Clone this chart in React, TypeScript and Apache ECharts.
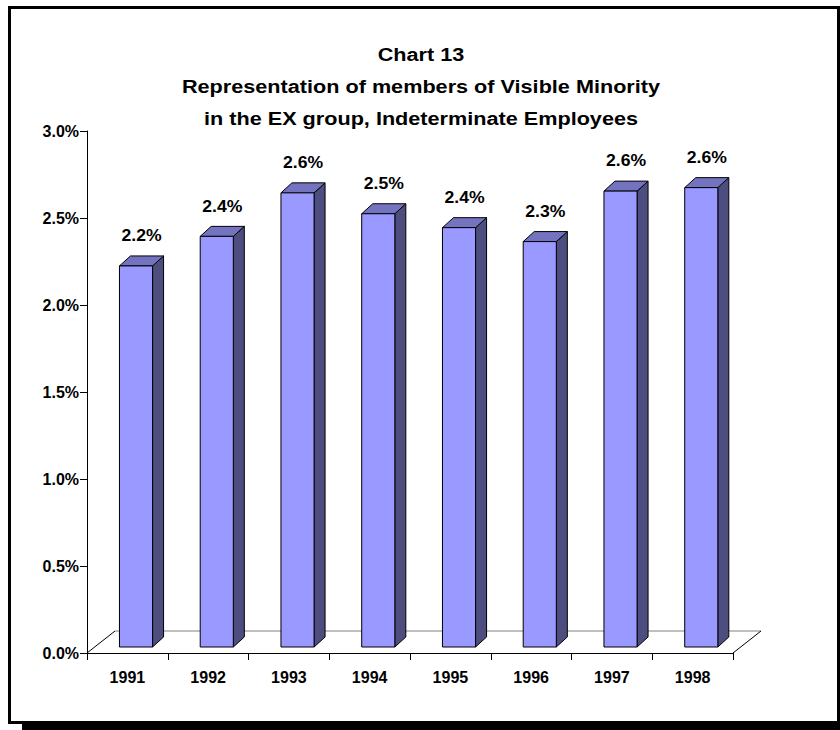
import { useEffect, useRef } from "react";
import * as echarts from "echarts";

const years = ["1991", "1992", "1993", "1994", "1995", "1996", "1997", "1998"];
const shares = [2.19, 2.36, 2.61, 2.49, 2.41, 2.33, 2.62, 2.64];
const titleLines = [
  "Chart 13",
  "Representation of members of Visible Minority",
  "in the EX group, Indeterminate Employees",
];
const yMin = 0;
const yMax = 3;
const yStep = 0.5;

const FONT = "'Liberation Sans', Arial, Helvetica, sans-serif";

export default function App() {
  const ref = useRef<HTMLDivElement>(null);

  useEffect(() => {
    const chart = echarts.init(ref.current!, null, { renderer: "svg" });
    const DX = 11;
    const DY = -10;
    const FDX = 28;
    const FDY = -22;
    const INSET = 6;
    const pct = (v: number) => v.toFixed(1) + "%";

    const titleY = [55, 86.7, 118.3];

    chart.setOption({
      animation: false,
      graphic: {
        elements: [
          {
            type: "rect",
            z: -2,
            silent: true,
            shape: { x: 22, y: 20, width: 830, height: 720 },
            style: { fill: "#000" },
          },
          {
            type: "rect",
            z: -1,
            silent: true,
            shape: { x: 9.5, y: 7.5, width: 829, height: 715 },
            style: { fill: "#fff", stroke: "#000", lineWidth: 3 },
          },
          ...titleLines.map((t, i) => ({
            type: "text",
            z: 10,
            x: 421,
            y: titleY[i],
            scaleX: 1.17,
            style: {
              text: t,
              fontSize: 18.5,
              fontWeight: "bold",
              fontFamily: FONT,
              fill: "#000",
              align: "center",
              verticalAlign: "middle",
            },
          })),
        ],
      },
      grid: { left: 87, top: 131, width: 646, height: 522, containLabel: false },
      xAxis: {
        type: "category",
        data: years,
        boundaryGap: true,
        axisLine: { show: true, lineStyle: { color: "#000", width: 1 } },
        axisTick: { show: true, length: 7, interval: 0, lineStyle: { color: "#000" } },
        axisLabel: {
          interval: 0,
          margin: 16,
          fontSize: 16,
          fontWeight: "bold",
          fontFamily: FONT,
          color: "#000",
        },
        splitLine: { show: false },
      },
      yAxis: {
        type: "value",
        min: yMin,
        max: yMax,
        interval: yStep,
        axisLine: { show: true, lineStyle: { color: "#000", width: 1 } },
        axisTick: { show: true, length: 7, lineStyle: { color: "#000" } },
        axisLabel: {
          margin: 8,
          fontSize: 16,
          fontWeight: "bold",
          fontFamily: FONT,
          color: "#000",
          formatter: (v: number) => pct(v),
        },
        splitLine: { show: false },
      },
      series: [
        {
          type: "custom",
          name: "floor",
          silent: true,
          clip: false,
          z: 1,
          data: [[0, 0]],
          encode: { x: 0, y: 1 },
          renderItem: (_params: any, api: any) => {
            const band = api.size([1, 0])[0];
            const p0 = api.coord([0, 0]);
            const p1 = api.coord([years.length - 1, 0]);
            const left = p0[0] - band / 2;
            const right = p1[0] + band / 2;
            const y0 = p0[1];
            return {
              type: "group",
              children: [
                {
                  type: "line",
                  shape: { x1: left, y1: y0, x2: left + FDX, y2: y0 + FDY },
                  style: { stroke: "#000", lineWidth: 1 },
                },
                {
                  type: "line",
                  shape: { x1: left + FDX, y1: y0 + FDY, x2: right + FDX, y2: y0 + FDY },
                  style: { stroke: "#808080", lineWidth: 1.2 },
                },
                {
                  type: "line",
                  shape: { x1: right, y1: y0, x2: right + FDX, y2: y0 + FDY },
                  style: { stroke: "#000", lineWidth: 1 },
                },
              ],
            };
          },
        },
        {
          type: "custom",
          name: "Visible minority share",
          clip: false,
          z: 3,
          data: years.map((_y, i) => [i, shares[i]]),
          encode: { x: 0, y: 1 },
          renderItem: (_params: any, api: any) => {
            const i = api.value(0);
            const v = api.value(1);
            const band = api.size([1, 0])[0];
            const base = api.coord([i, 0]);
            const top = api.coord([i, v]);
            const w = band * 0.41;
            const cx = base[0] + band * 0.107;
            const xl = cx - w / 2;
            const xr = cx + w / 2;
            const yb = base[1] - INSET;
            const yt = top[1] - INSET;
            const stroke = { stroke: "#000", lineWidth: 1 };
            return {
              type: "group",
              children: [
                {
                  type: "polygon",
                  shape: {
                    points: [
                      [xr, yt],
                      [xr + DX, yt + DY],
                      [xr + DX, yb + DY],
                      [xr, yb],
                    ],
                  },
                  style: { fill: "#4d4d80", ...stroke },
                },
                {
                  type: "polygon",
                  shape: {
                    points: [
                      [xl, yt],
                      [xl + DX, yt + DY],
                      [xr + DX, yt + DY],
                      [xr, yt],
                    ],
                  },
                  style: { fill: "#7373bf", ...stroke },
                },
                {
                  type: "rect",
                  shape: { x: xl, y: yt, width: w, height: yb - yt },
                  style: { fill: "#9999ff", ...stroke },
                },
                {
                  type: "text",
                  x: cx + DX / 2,
                  y: yt - 30,
                  scaleX: 1.1,
                  style: {
                    text: pct(v),
                    fontSize: 16,
                    fontWeight: "bold",
                    fontFamily: FONT,
                    fill: "#000",
                    align: "center",
                    verticalAlign: "middle",
                  },
                },
              ],
            };
          },
        },
      ],
    });

    return () => chart.dispose();
  }, []);

  return (
    <div
      ref={ref}
      style={{ position: "absolute", left: 0, top: 0, width: 840, height: 730 }}
    />
  );
}
